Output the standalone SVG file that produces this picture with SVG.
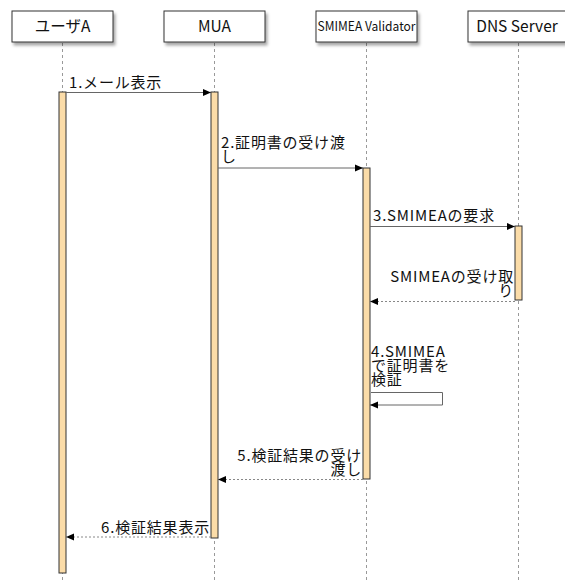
<svg xmlns="http://www.w3.org/2000/svg" width="565" height="581" viewBox="0 0 565 581">
<style>
.hdr{fill:#fff;stroke:#333;stroke-width:1}
.ht{font-family:"Noto Sans CJK JP","Liberation Sans",sans-serif;font-size:15.5px;fill:#111;text-anchor:middle}
.life{stroke:#999;stroke-width:1;stroke-dasharray:3,3;fill:none}
.act{fill:#fbdca8;stroke:#333;stroke-width:1}
.msg{stroke:#666;stroke-width:1;fill:none}
.ret{stroke:#888;stroke-width:1;stroke-dasharray:2,2;fill:none}
.lbl{font-family:"Noto Sans CJK JP","Liberation Sans",sans-serif;font-size:15px;fill:#111;letter-spacing:0.8px}
.end{text-anchor:end}
</style>
<defs>
<filter id="sh" x="-10%" y="-10%" width="130%" height="150%">
<feDropShadow dx="2" dy="3" stdDeviation="1.5" flood-color="#000" flood-opacity="0.35"/>
</filter>
<marker id="ah" markerWidth="8" markerHeight="8" refX="8" refY="4" orient="auto" markerUnits="userSpaceOnUse">
<path d="M0,0.5 L8,4 L0,7.5 Z" fill="#000"/>
</marker>
</defs>

<g id="lifelines">
<line class="life" x1="62.5" y1="43" x2="62.5" y2="581"/>
<line class="life" x1="214.5" y1="43" x2="214.5" y2="581"/>
<line class="life" x1="366.5" y1="43" x2="366.5" y2="581"/>
<line class="life" x1="518.5" y1="43" x2="518.5" y2="581"/>
</g>

<g id="userA">
<rect class="hdr" x="12" y="11" width="101" height="31" filter="url(#sh)"/>
<text class="ht" x="62.5" y="32">ユーザA</text>
<rect class="act" x="59" y="92" width="7" height="481"/>
</g>
<g id="mua">
<rect class="hdr" x="164" y="11" width="101" height="31" filter="url(#sh)"/>
<text class="ht" x="214.5" y="32">MUA</text>
<rect class="act" x="211" y="92" width="7" height="446"/>
</g>
<g id="validator">
<rect class="hdr" x="316" y="11" width="101" height="31" filter="url(#sh)"/>
<text class="ht" x="366.5" y="31" style="font-size:13px" textLength="98" lengthAdjust="spacingAndGlyphs">SMIMEA Validator</text>
<rect class="act" x="363" y="168" width="7" height="311"/>
</g>
<g id="dns">
<rect class="hdr" x="468" y="11" width="101" height="31" filter="url(#sh)"/>
<text class="ht" x="517" y="32">DNS Server</text>
<rect class="act" x="515" y="226" width="7" height="74"/>
</g>

<g id="connectors">
<line class="msg" x1="66" y1="92.5" x2="211" y2="92.5" marker-end="url(#ah)"/>
<line class="msg" x1="218" y1="168" x2="363" y2="168" marker-end="url(#ah)"/>
<line class="msg" x1="370" y1="226.5" x2="515" y2="226.5" marker-end="url(#ah)"/>
<line class="ret" x1="515" y1="301.5" x2="370" y2="301.5" marker-end="url(#ah)"/>
<path class="msg" d="M371,392.5 H442.5 V405 H370" marker-end="url(#ah)"/>
<line class="ret" x1="363" y1="479.5" x2="218" y2="479.5" marker-end="url(#ah)"/>
<line class="ret" x1="211" y1="537" x2="66" y2="537" marker-end="url(#ah)"/>
</g>

<g id="labels">
<text class="lbl" x="69" y="88">1.メール表示</text>
<text class="lbl" x="221" y="148">2.証明書の受け渡<tspan x="221" dy="14">し</tspan></text>
<text class="lbl" x="373" y="221">3.SMIMEAの要求</text>
<text class="lbl end" x="514" y="282">SMIMEAの受け取<tspan x="514" dy="14">り</tspan></text>
<text class="lbl" x="371" y="357">4.SMIMEA<tspan x="371" dy="14">で証明書を</tspan><tspan x="371" dy="14">検証</tspan></text>
<text class="lbl end" x="362" y="461">5.検証結果の受け<tspan x="362" dy="14">渡し</tspan></text>
<text class="lbl end" x="210" y="533">6.検証結果表示</text>
</g>
</svg>
